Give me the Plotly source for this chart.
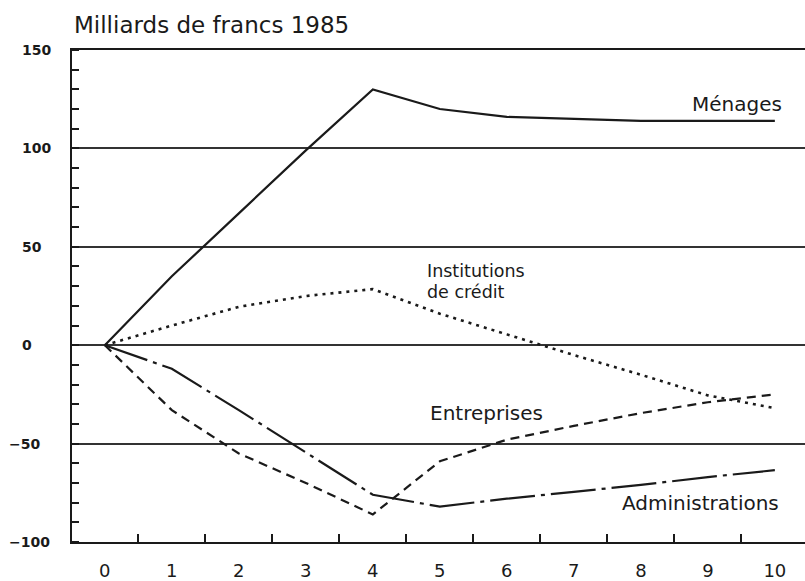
import plotly.graph_objects as go

# years after the shock
years = [0, 1, 2, 3, 4, 5, 6, 7, 8, 9, 10]

menages = [0, 35, 67, 99, 130, 120, 116, 115, 114, 114, 114]
institutions = [0, 10, 19.5, 25, 28.5, 16, 5.5, -5, -15, -25.5, -32]
entreprises = [0, -33, -55, -70, -86, -59, -48, -41, -34.5, -29, -25]
administrations = [0, -12, -33, -54.5, -76, -82, -78, -74.5, -71, -67, -63.5]

y_ticks = [-100, -50, 0, 50, 100, 150]
y_labels = ['\u2212100', '\u221250', '0', '50', '100', '150']
x_minor = [0.5, 1.5, 2.5, 3.5, 4.5, 5.5, 6.5, 7.5, 8.5, 9.5]

FONT = 'DejaVu Sans'
INK = '#1a1a1a'

fig = go.Figure()
fig.add_trace(go.Scatter(x=years, y=menages, mode='lines',
                         line=dict(color=INK, width=2.2)))
fig.add_trace(go.Scatter(x=years, y=institutions, mode='lines',
                         line=dict(color=INK, width=2.6, dash='3px,5px')))
fig.add_trace(go.Scatter(x=years, y=entreprises, mode='lines',
                         line=dict(color=INK, width=2.2, dash='9px,6px')))
fig.add_trace(go.Scatter(x=years, y=administrations, mode='lines',
                         line=dict(color=INK, width=2.2, dash='45px,6px,4px,6px')))

# series labels
labels = [
    ('Ménages', 8.74, 122.5, 20),
    ('Institutions', 4.78, 37.6, 17.5),
    ('de crédit', 4.78, 26.9, 17.5),
    ('Entreprises', 4.83, -34.5, 20),
    ('Administrations', 7.69, -80.3, 20),
]
for txt, x, y, sz in labels:
    fig.add_annotation(x=x, y=y, text=txt, showarrow=False, xanchor='left',
                       yanchor='middle', font=dict(family=FONT, size=sz, color=INK))

# y tick labels, digits left aligned as in the print
for v, t in zip(y_ticks, y_labels):
    px = 7 if v < 0 else 20
    fig.add_annotation(xref='paper', yref='y', x=(px - 72) / 733, y=v, text=t,
                       showarrow=False, xanchor='left', yanchor='middle',
                       font=dict(family=FONT, size=14, color=INK, weight='bold'))

fig.add_annotation(xref='paper', yref='paper', x=0, y=1, yshift=25,
                   text='Milliards de francs 1985', showarrow=False,
                   xanchor='left', yanchor='middle',
                   font=dict(family=FONT, size=23, color=INK))

fig.update_xaxes(range=[-0.49, 10.45], tickvals=years, ticks='',
                 automargin=False, showgrid=False, zeroline=False,
                 showline=True, mirror=True, linecolor=INK, linewidth=2,
                 ticklabelstandoff=11,
                 tickfont=dict(family=FONT, size=18, color=INK),
                 minor=dict(tickmode='array', tickvals=x_minor, ticks='inside',
                            ticklen=8, tickwidth=2, tickcolor=INK, showgrid=False))
fig.update_yaxes(range=[-100, 150], tickvals=y_ticks, ticks='',
                 automargin=False, showticklabels=False, zeroline=False,
                 showgrid=True, gridcolor='#333333', gridwidth=1.5,
                 showline=True, linecolor=INK, linewidth=2,
                 minor=dict(dtick=10, tick0=0, ticks='inside', ticklen=7,
                            tickwidth=2, tickcolor=INK, showgrid=False))

fig.update_layout(width=805, height=581, showlegend=False,
                  margin=dict(l=72, r=0, t=50, b=39),
                  plot_bgcolor='white', paper_bgcolor='white')

# page body has a default margin, drop it so the figure sits at the corner
fig.write_html('out.html', config={'displayModeBar': False},
               post_script="document.body.style.margin='0';document.body.style.overflow='hidden';")
